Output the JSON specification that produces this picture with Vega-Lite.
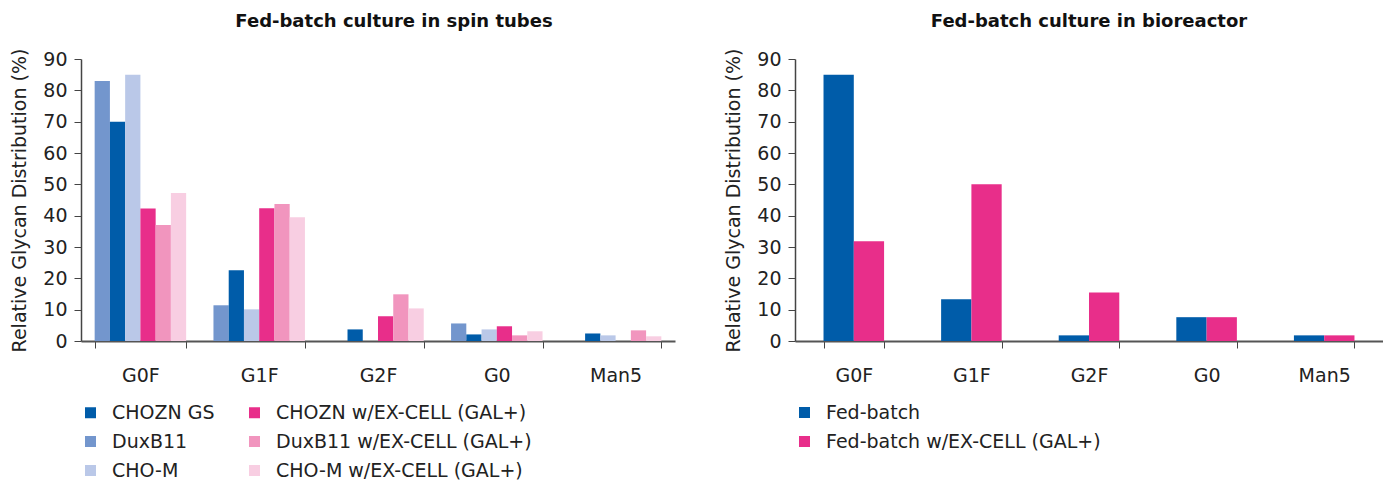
{
  "$schema": "https://vega.github.io/schema/vega-lite/v6.json",
  "padding": {"left": 10, "top": 13, "right": 0, "bottom": 0},
  "bounds": "flush",
  "spacing": 120,
  "config": {
    "font": "DejaVu Sans",
    "view": {"stroke": null},
    "axis": {
      "labelFont": "DejaVu Sans", "labelFontSize": 19, "labelColor": "#222",
      "titleFont": "DejaVu Sans", "titleFontSize": 19, "titleFontWeight": "normal", "titleColor": "#222",
      "grid": false, "tickColor": "#444", "domainColor": "#444", "tickSize": 7
    },
    "legend": {
      "labelFont": "DejaVu Sans", "labelFontSize": 19, "labelColor": "#222", "labelLimit": 500,
      "symbolType": "square", "symbolSize": 121, "symbolStrokeWidth": 0,
      "labelOffset": 12, "rowPadding": 9, "orient": "none", "legendX": 0, "legendY": 344, "title": null
    },
    "title": {"font": "DejaVu Sans", "fontSize": 18, "fontWeight": "bold", "color": "#111"}
  },
  "datasets": {
    "spin": [
      {"glycan": "G0F", "series": "DuxB11", "value": 83},
      {"glycan": "G0F", "series": "CHOZN GS", "value": 70},
      {"glycan": "G0F", "series": "CHO-M", "value": 85},
      {"glycan": "G0F", "series": "CHOZN w/EX-CELL (GAL+)", "value": 42.3},
      {"glycan": "G0F", "series": "DuxB11 w/EX-CELL (GAL+)", "value": 37},
      {"glycan": "G0F", "series": "CHO-M w/EX-CELL (GAL+)", "value": 47.2},
      {"glycan": "G1F", "series": "DuxB11", "value": 11.4},
      {"glycan": "G1F", "series": "CHOZN GS", "value": 22.6},
      {"glycan": "G1F", "series": "CHO-M", "value": 10.1},
      {"glycan": "G1F", "series": "CHOZN w/EX-CELL (GAL+)", "value": 42.4},
      {"glycan": "G1F", "series": "DuxB11 w/EX-CELL (GAL+)", "value": 43.7},
      {"glycan": "G1F", "series": "CHO-M w/EX-CELL (GAL+)", "value": 39.5},
      {"glycan": "G2F", "series": "DuxB11", "value": 0},
      {"glycan": "G2F", "series": "CHOZN GS", "value": 3.7},
      {"glycan": "G2F", "series": "CHO-M", "value": 0},
      {"glycan": "G2F", "series": "CHOZN w/EX-CELL (GAL+)", "value": 7.9},
      {"glycan": "G2F", "series": "DuxB11 w/EX-CELL (GAL+)", "value": 14.9},
      {"glycan": "G2F", "series": "CHO-M w/EX-CELL (GAL+)", "value": 10.4},
      {"glycan": "G0", "series": "DuxB11", "value": 5.6},
      {"glycan": "G0", "series": "CHOZN GS", "value": 2.1},
      {"glycan": "G0", "series": "CHO-M", "value": 3.7},
      {"glycan": "G0", "series": "CHOZN w/EX-CELL (GAL+)", "value": 4.7},
      {"glycan": "G0", "series": "DuxB11 w/EX-CELL (GAL+)", "value": 1.8},
      {"glycan": "G0", "series": "CHO-M w/EX-CELL (GAL+)", "value": 3.1},
      {"glycan": "Man5", "series": "DuxB11", "value": 0},
      {"glycan": "Man5", "series": "CHOZN GS", "value": 2.4},
      {"glycan": "Man5", "series": "CHO-M", "value": 1.8},
      {"glycan": "Man5", "series": "CHOZN w/EX-CELL (GAL+)", "value": 0},
      {"glycan": "Man5", "series": "DuxB11 w/EX-CELL (GAL+)", "value": 3.4},
      {"glycan": "Man5", "series": "CHO-M w/EX-CELL (GAL+)", "value": 1.5}
    ],
    "bio": [
      {"glycan": "G0F", "series": "Fed-batch", "value": 85},
      {"glycan": "G0F", "series": "Fed-batch w/EX-CELL (GAL+)", "value": 31.8},
      {"glycan": "G1F", "series": "Fed-batch", "value": 13.3},
      {"glycan": "G1F", "series": "Fed-batch w/EX-CELL (GAL+)", "value": 50},
      {"glycan": "G2F", "series": "Fed-batch", "value": 1.8},
      {"glycan": "G2F", "series": "Fed-batch w/EX-CELL (GAL+)", "value": 15.5},
      {"glycan": "G0", "series": "Fed-batch", "value": 7.6},
      {"glycan": "G0", "series": "Fed-batch w/EX-CELL (GAL+)", "value": 7.6},
      {"glycan": "Man5", "series": "Fed-batch", "value": 1.8},
      {"glycan": "Man5", "series": "Fed-batch w/EX-CELL (GAL+)", "value": 1.8}
    ]
  },
  "resolve": {"scale": {"color": "independent", "x": "independent", "xOffset": "independent"}, "legend": {"color": "independent"}},
  "hconcat": [
    {
      "width": 594, "height": 282,
      "title": {"text": "Fed-batch culture in spin tubes", "dx": 16, "offset": 17},
      "data": {"name": "spin"},
      "mark": {"type": "bar"},
      "encoding": {
        "x": {"field": "glycan", "type": "nominal", "sort": ["G0F", "G1F", "G2F", "G0", "Man5"],
              "scale": {"paddingInner": 0.23, "paddingOuter": 0.115},
              "axis": {"title": null, "labelAngle": 0, "tickBand": "extent", "domainWidth": 2, "domainColor": "#555", "labelPadding": 18}},
        "xOffset": {"field": "series", "type": "nominal",
                    "sort": ["DuxB11", "CHOZN GS", "CHO-M", "CHOZN w/EX-CELL (GAL+)", "DuxB11 w/EX-CELL (GAL+)", "CHO-M w/EX-CELL (GAL+)"]},
        "y": {"field": "value", "type": "quantitative", "scale": {"domain": [0, 90]},
              "axis": {"title": "Relative Glycan Distribution (%)", "values": [0, 10, 20, 30, 40, 50, 60, 70, 80, 90], "labelPadding": 7, "titlePadding": 13, "domainWidth": 1.5}},
        "color": {"field": "series", "type": "nominal",
                  "scale": {"domain": ["CHOZN GS", "DuxB11", "CHO-M", "CHOZN w/EX-CELL (GAL+)", "DuxB11 w/EX-CELL (GAL+)", "CHO-M w/EX-CELL (GAL+)"],
                            "range": ["#005CA9", "#7396CD", "#BAC8E8", "#E82E8A", "#F195BE", "#F8CEE2"]},
                  "legend": {"columns": 2, "columnPadding": 30}}
      }
    },
    {
      "width": 588, "height": 282,
      "title": {"text": "Fed-batch culture in bioreactor", "offset": 17},
      "data": {"name": "bio"},
      "mark": {"type": "bar"},
      "encoding": {
        "x": {"field": "glycan", "type": "nominal", "sort": ["G0F", "G1F", "G2F", "G0", "Man5"],
              "scale": {"paddingInner": 0.485, "paddingOuter": 0.2425},
              "axis": {"title": null, "labelAngle": 0, "tickBand": "extent", "domainWidth": 2, "domainColor": "#555", "labelPadding": 18}},
        "xOffset": {"field": "series", "type": "nominal", "sort": ["Fed-batch", "Fed-batch w/EX-CELL (GAL+)"]},
        "y": {"field": "value", "type": "quantitative", "scale": {"domain": [0, 90]},
              "axis": {"title": "Relative Glycan Distribution (%)", "values": [0, 10, 20, 30, 40, 50, 60, 70, 80, 90], "labelPadding": 7, "titlePadding": 13, "domainWidth": 1.5}},
        "color": {"field": "series", "type": "nominal",
                  "scale": {"domain": ["Fed-batch", "Fed-batch w/EX-CELL (GAL+)"], "range": ["#005CA9", "#E82E8A"]},
                  "legend": {}}
      }
    }
  ]
}
